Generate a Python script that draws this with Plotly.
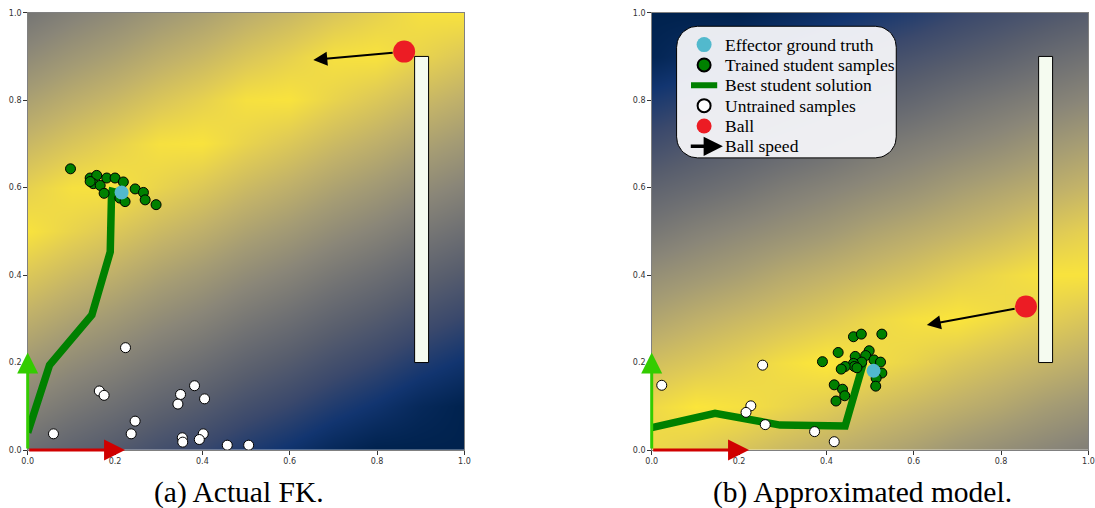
import numpy as np
import plotly.graph_objects as go

# background fitness field, sampled every 0.1 (rows = y from 0 to 1)
grid_x = [0.0, 0.1, 0.2, 0.3, 0.4, 0.5, 0.6, 0.7, 0.8, 0.9, 1.0]
grid_y = [0.0, 0.1, 0.2, 0.3, 0.4, 0.5, 0.6, 0.7, 0.8, 0.9, 1.0]

fk_field = [
    [0.43, 0.37, 0.32, 0.26, 0.21, 0.15, 0.10, 0.04, 0.00, 0.00, 0.00],
    [0.54, 0.48, 0.43, 0.37, 0.32, 0.26, 0.21, 0.15, 0.10, 0.04, 0.00],
    [0.65, 0.59, 0.54, 0.48, 0.43, 0.37, 0.32, 0.26, 0.21, 0.15, 0.10],
    [0.76, 0.70, 0.65, 0.59, 0.54, 0.48, 0.43, 0.37, 0.32, 0.26, 0.21],
    [0.87, 0.81, 0.76, 0.70, 0.65, 0.59, 0.54, 0.48, 0.43, 0.37, 0.32],
    [0.98, 0.92, 0.87, 0.81, 0.76, 0.70, 0.65, 0.59, 0.54, 0.48, 0.43],
    [0.91, 0.97, 0.98, 0.92, 0.87, 0.81, 0.76, 0.70, 0.65, 0.59, 0.54],
    [0.80, 0.86, 0.91, 0.97, 0.98, 0.92, 0.87, 0.81, 0.76, 0.70, 0.65],
    [0.69, 0.75, 0.80, 0.86, 0.91, 0.97, 0.98, 0.92, 0.87, 0.81, 0.76],
    [0.58, 0.64, 0.69, 0.75, 0.80, 0.86, 0.91, 0.97, 0.98, 0.92, 0.87],
    [0.47, 0.53, 0.58, 0.64, 0.69, 0.75, 0.80, 0.86, 0.91, 0.97, 0.98],
]

model_field = [
    [0.94, 0.90, 0.86, 0.81, 0.77, 0.73, 0.69, 0.64, 0.60, 0.56, 0.52],
    [0.94, 0.99, 0.97, 0.93, 0.89, 0.84, 0.80, 0.76, 0.72, 0.67, 0.63],
    [0.83, 0.87, 0.91, 0.96, 1.00, 0.96, 0.92, 0.87, 0.83, 0.79, 0.75],
    [0.71, 0.76, 0.80, 0.84, 0.88, 0.93, 0.97, 0.99, 0.95, 0.90, 0.86],
    [0.60, 0.64, 0.68, 0.73, 0.77, 0.81, 0.85, 0.90, 0.94, 0.98, 0.98],
    [0.48, 0.53, 0.57, 0.61, 0.65, 0.70, 0.74, 0.78, 0.82, 0.87, 0.91],
    [0.37, 0.41, 0.45, 0.50, 0.54, 0.58, 0.62, 0.67, 0.71, 0.75, 0.79],
    [0.25, 0.30, 0.34, 0.38, 0.42, 0.47, 0.51, 0.55, 0.59, 0.64, 0.68],
    [0.14, 0.18, 0.22, 0.27, 0.31, 0.35, 0.39, 0.44, 0.48, 0.52, 0.56],
    [0.02, 0.07, 0.11, 0.15, 0.19, 0.24, 0.28, 0.32, 0.36, 0.41, 0.45],
    [0.00, 0.00, 0.00, 0.04, 0.08, 0.12, 0.16, 0.21, 0.25, 0.29, 0.33],
]

# (a) actual FK
fk_path_x = [0.0, 0.05, 0.147, 0.189, 0.192, 0.195]
fk_path_y = [0.04, 0.194, 0.309, 0.453, 0.587, 0.60]
fk_trained_x = [0.098, 0.143, 0.158, 0.150, 0.166, 0.181, 0.200, 0.219, 0.175,
                0.211, 0.223, 0.246, 0.265, 0.269, 0.294, 0.143]
fk_trained_y = [0.643, 0.622, 0.628, 0.609, 0.605, 0.622, 0.622, 0.613, 0.587,
                0.576, 0.568, 0.597, 0.589, 0.572, 0.561, 0.614]
fk_untrained_x = [0.224, 0.164, 0.175, 0.059, 0.246, 0.237, 0.382, 0.350,
                  0.344, 0.405, 0.354, 0.355, 0.402, 0.393, 0.457, 0.506]
fk_untrained_y = [0.234, 0.135, 0.125, 0.037, 0.066, 0.037, 0.147, 0.127,
                  0.105, 0.117, 0.028, 0.018, 0.037, 0.024, 0.011, 0.011]
fk_truth = [0.215, 0.589]
fk_ball = [0.862, 0.911]
fk_ball_to = [0.654, 0.892]

# (b) approximated model
model_path_x = [0.0, 0.145, 0.294, 0.443, 0.485]
model_path_y = [0.051, 0.084, 0.057, 0.055, 0.20]
model_trained_x = [0.462, 0.480, 0.527, 0.427, 0.391, 0.498, 0.466, 0.490, 0.481,
                   0.462, 0.464, 0.470, 0.443, 0.434, 0.509, 0.524, 0.527, 0.514,
                   0.513, 0.418, 0.437, 0.442, 0.422]
model_trained_y = [0.259, 0.265, 0.265, 0.223, 0.202, 0.227, 0.214, 0.216, 0.201,
                   0.198, 0.191, 0.188, 0.191, 0.185, 0.206, 0.201, 0.176, 0.164,
                   0.146, 0.149, 0.139, 0.124, 0.112]
model_untrained_x = [0.023, 0.254, 0.227, 0.216, 0.260, 0.373, 0.418]
model_untrained_y = [0.148, 0.194, 0.101, 0.086, 0.058, 0.042, 0.019]
model_truth = [0.508, 0.181]
model_ball = [0.857, 0.328]
model_ball_to = [0.630, 0.286]

paddle_x = [0.886, 0.918]
paddle_y = [0.2, 0.9]
frame_arrow = 0.223

legend_labels = ["Effector ground truth", "Trained student samples", "Best student solution",
                 "Untrained samples", "Ball", "Ball speed"]
captions = ["(a) Actual FK.", "(b) Approximated model."]

CYAN = "#52b9cd"
GREEN = "#008000"
RED = "#ec1c24"
SERIF = "Liberation Serif"

fig = go.Figure()

panels = [
    ("x", "y", fk_field, fk_path_x, fk_path_y, fk_trained_x, fk_trained_y,
     fk_untrained_x, fk_untrained_y, fk_truth, fk_ball, fk_ball_to),
    ("x2", "y2", model_field, model_path_x, model_path_y, model_trained_x, model_trained_y,
     model_untrained_x, model_untrained_y, model_truth, model_ball, model_ball_to),
]

annotations = []
shapes = []
for xa, ya, field, px, py, tx, ty, ux, uy, truth, ball, ball_to in panels:
    fig.add_trace(go.Heatmap(x=grid_x, y=grid_y, z=field, colorscale="Cividis", zmin=0, zmax=1,
                             zsmooth="best", showscale=False, hoverinfo="skip", xaxis=xa, yaxis=ya))
    fig.add_trace(go.Scatter(x=px, y=py, mode="lines", line=dict(color=GREEN, width=7.5),
                             xaxis=xa, yaxis=ya))
    fig.add_trace(go.Scatter(x=ux, y=uy, mode="markers", xaxis=xa, yaxis=ya,
                             marker=dict(color="white", size=10, line=dict(color="black", width=1))))
    fig.add_trace(go.Scatter(x=tx, y=ty, mode="markers", xaxis=xa, yaxis=ya,
                             marker=dict(color=GREEN, size=10, line=dict(color="black", width=1))))
    fig.add_trace(go.Scatter(x=[truth[0]], y=[truth[1]], mode="markers", xaxis=xa, yaxis=ya,
                             marker=dict(color=CYAN, size=14)))
    fig.add_trace(go.Scatter(x=[ball[0]], y=[ball[1]], mode="markers", xaxis=xa, yaxis=ya,
                             marker=dict(color=RED, size=22)))
    # paddle
    shapes.append(dict(type="rect", xref=xa, yref=ya, x0=paddle_x[0], x1=paddle_x[1],
                       y0=paddle_y[0], y1=paddle_y[1], fillcolor="#f5fbf0",
                       line=dict(color="black", width=1), layer="above"))
    # ball speed
    annotations.append(dict(x=ball_to[0], y=ball_to[1], ax=ball[0], ay=ball[1],
                            xref=xa, yref=ya, axref=xa, ayref=ya, text="", showarrow=True,
                            arrowhead=2, arrowsize=1.4, arrowwidth=2, arrowcolor="black",
                            startstandoff=10))
    # frame axes arrows
    annotations.append(dict(x=frame_arrow, y=0, ax=0, ay=0, xref=xa, yref=ya, axref=xa, ayref=ya,
                            text="", showarrow=True, arrowhead=2, arrowsize=1.4, arrowwidth=3,
                            arrowcolor="#d00000"))
    annotations.append(dict(x=0, y=frame_arrow, ax=0, ay=0, xref=xa, yref=ya, axref=xa, ayref=ya,
                            text="", showarrow=True, arrowhead=2, arrowsize=1.4, arrowwidth=3,
                            arrowcolor="#33cc00"))

# legend box in panel (b), rounded corners
bx0, bx1, by0, by1, r = 0.057, 0.56, 0.668, 0.969, 0.048
corners = [(bx1 - r, by1 - r, 0), (bx0 + r, by1 - r, 90), (bx0 + r, by0 + r, 180), (bx1 - r, by0 + r, 270)]
box_x, box_y = [], []
for cx, cy, a0 in corners:
    t = np.radians(np.linspace(a0, a0 + 90, 12))
    box_x += list(cx + r * np.cos(t))
    box_y += list(cy + r * np.sin(t))
box_x.append(box_x[0])
box_y.append(box_y[0])
fig.add_trace(go.Scatter(x=box_x, y=box_y, mode="lines", fill="toself",
                         fillcolor="rgba(246,246,249,0.95)", line=dict(color="black", width=1),
                         xaxis="x2", yaxis="y2", hoverinfo="skip"))

row_y = [0.927 - i * 0.0465 for i in range(6)]
gx = 0.12
fig.add_trace(go.Scatter(x=[gx], y=[row_y[0]], mode="markers", marker=dict(color=CYAN, size=15),
                         xaxis="x2", yaxis="y2"))
fig.add_trace(go.Scatter(x=[gx], y=[row_y[1]], mode="markers", xaxis="x2", yaxis="y2",
                         marker=dict(color=GREEN, size=13, line=dict(color="black", width=2))))
fig.add_trace(go.Scatter(x=[gx - 0.03, gx + 0.03], y=[row_y[2]] * 2, mode="lines",
                         line=dict(color=GREEN, width=6), xaxis="x2", yaxis="y2"))
fig.add_trace(go.Scatter(x=[gx], y=[row_y[3]], mode="markers", xaxis="x2", yaxis="y2",
                         marker=dict(color="white", size=13, line=dict(color="black", width=2))))
fig.add_trace(go.Scatter(x=[gx], y=[row_y[4]], mode="markers", marker=dict(color=RED, size=15),
                         xaxis="x2", yaxis="y2"))
annotations.append(dict(x=0.163, y=row_y[5], ax=0.086, ay=row_y[5], xref="x2", yref="y2",
                        axref="x2", ayref="y2", text="", showarrow=True, arrowhead=2,
                        arrowsize=1.1, arrowwidth=3.5, arrowcolor="black"))
for lbl, yy in zip(legend_labels, row_y):
    annotations.append(dict(x=0.163, y=yy, xref="x2", yref="y2", text=lbl, showarrow=False,
                            xanchor="left", yanchor="middle",
                            font=dict(family=SERIF, size=17.5, color="black")))

for cap, cx in zip(captions, [239 / 1095, 863 / 1095]):
    annotations.append(dict(x=cx, y=(508 - 492) / 508, xref="paper", yref="paper", text=cap,
                            showarrow=False, xanchor="center", yanchor="middle",
                            font=dict(family=SERIF, size=29.5, color="black")))

axis_style = dict(range=[0, 1], tickvals=[0, 0.2, 0.4, 0.6, 0.8, 1.0], tickformat=".1f",
                  ticks="outside", ticklen=3.5, tickwidth=1, tickcolor="#333",
                  showgrid=False, zeroline=False, showline=True, mirror=True,
                  linecolor="#808080", linewidth=1, automargin=False,
                  tickfont=dict(family="DejaVu Sans", size=8, color="#333"))

fig.update_layout(
    width=1095, height=508,
    margin=dict(l=0, r=0, t=0, b=0, autoexpand=False),
    paper_bgcolor="white", plot_bgcolor="white",
    showlegend=False,
    xaxis=dict(domain=[27.7 / 1095, 464.4 / 1095], anchor="y", **axis_style),
    yaxis=dict(domain=[58 / 508, 495.3 / 508], anchor="x", **axis_style),
    xaxis2=dict(domain=[651.7 / 1095, 1088.4 / 1095], anchor="y2", **axis_style),
    yaxis2=dict(domain=[58 / 508, 495.3 / 508], anchor="x2", **axis_style),
    shapes=shapes,
    annotations=annotations,
)

# drop the page's default body margin so the figure sits at the window origin
fig.write_html("out.html", config={"displayModeBar": False},
               post_script="document.body.style.margin = '0px';")
